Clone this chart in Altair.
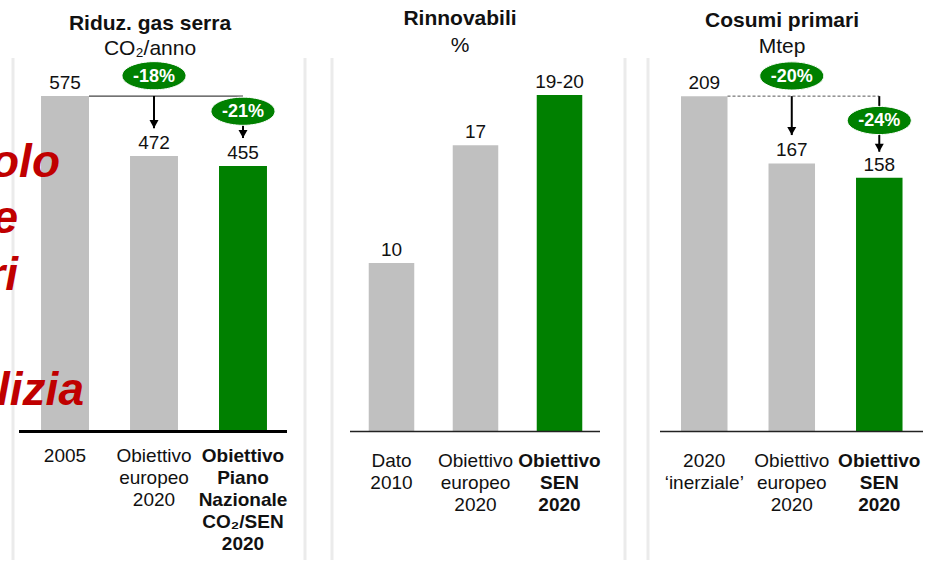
import altair as alt
import pandas as pd

FONT = "Liberation Sans"
GRAY = "#c0c0c0"
GREEN = "#008000"
RED = "#c00000"
BORDER = "#ebebeb"
INK = "#111111"

# ---- data -------------------------------------------------------------
gas_title = "Riduz. gas serra"
gas_unit = "CO₂/anno"
gas_cats = ["2005", "Obiettivo\neuropeo\n2020", "Obiettivo\nPiano\nNazionale\nCO₂/SEN\n2020"]
gas_values = [575, 472, 455]
gas_labels = ["575", "472", "455"]
gas_drops = ["-18%", "-21%"]

ren_title = "Rinnovabili"
ren_unit = "%"
ren_cats = ["Dato\n2010", "Obiettivo\neuropeo\n2020", "Obiettivo\nSEN\n2020"]
ren_values = [10, 17, 20]
ren_labels = ["10", "17", "19-20"]

con_title = "Cosumi primari"
con_unit = "Mtep"
con_cats = ["2020\n‘inerziale’", "Obiettivo\neuropeo\n2020", "Obiettivo\nSEN\n2020"]
con_values = [209, 167, 158]
con_labels = ["209", "167", "158"]
con_drops = ["-20%", "-24%"]

side_words = ["olo", "e", "ri", "lizia"]

ELLIPSE = "M-1,0A1,0.44,0,1,1,1,0A1,0.44,0,1,1,-1,0Z"
ARROWHEAD = "M-1,-1.8L1,-1.8L0,0Z"
H = 431


def one():
    return alt.Chart(pd.DataFrame({"k": [0]}))


def text_at(s, x, y, size=21, weight="normal", **kw):
    return one().mark_text(font=FONT, fontSize=size, fontWeight=weight, align="center",
                           baseline="alphabetic", color=INK, **kw).encode(
        x=alt.value(x), y=alt.value(y), text=alt.value(s))


def vrule(x, y1=58, y2=560, color=BORDER, width=3):
    return one().mark_rule(color=color, strokeWidth=width).encode(
        x=alt.value(x), y=alt.value(y1), y2=alt.value(y2))


def hrule(x1, x2, y, color, width):
    return one().mark_rule(color=color, strokeWidth=width).encode(
        x=alt.value(x1), x2=alt.value(x2), y=alt.value(y))


def panel(cats, values, labels, width, ymax, xs, title, unit, head, label_y,
          base, borders, extra=None):
    df = pd.DataFrame({"cat": cats, "value": values, "label": labels,
                       "hl": [False, False, True]})
    xscale = alt.Scale(domain=cats, **xs)
    yscale = alt.Scale(domain=[0, ymax], nice=False, zero=True)
    x = alt.X("cat:N", sort=cats, scale=xscale, axis=None)
    y = alt.Y("value:Q", scale=yscale, axis=None)
    c = alt.Chart(df)
    layers = [vrule(bx) for bx in borders]
    layers.append(c.mark_bar().encode(
        x=x, y=y,
        color=alt.condition("datum.hl", alt.value(GREEN), alt.value(GRAY))))
    layers.append(hrule(*base))
    layers.append(c.mark_text(font=FONT, fontSize=19, baseline="alphabetic", dy=-7,
                              color=INK).encode(x=x, y=y, text="label:N"))
    for test, wt in (("!datum.hl", "normal"), ("datum.hl", "bold")):
        layers.append(c.transform_filter(test).mark_text(
            font=FONT, fontSize=19, fontWeight=wt, baseline="alphabetic",
            lineBreak="\n", lineHeight=22, color=INK).encode(
            x=x, y=alt.value(label_y), text="cat:N"))
    hx, hy, sy = head
    layers.append(text_at(title, hx, hy, 21, "bold"))
    layers.append(text_at(unit, hx, sy, 21))
    if extra:
        layers += extra(cats, xscale, yscale)
    return alt.layer(*layers).properties(width=width, height=H)


def annotations(cats, xscale, yscale, top, arrow1, ell1, ell2, tail2, arrow2,
                drops, dashed):
    def X(f="cat", bp=0.5):
        return alt.X(f + ":N", sort=cats, scale=xscale, axis=None, bandPosition=bp)

    def Y(f):
        return alt.Y(f + ":Q", scale=yscale, axis=None)

    out = []
    conn = alt.Chart(pd.DataFrame({"a": [cats[0]], "b": [cats[2]], "v": [top]}))
    if dashed:
        out.append(conn.mark_rule(color="#555555", strokeWidth=1, strokeDash=[3, 2]).encode(
            x=X("a", 1), x2=alt.X2("b:N", bandPosition=0.5), y=Y("v")))
    else:
        out.append(conn.mark_rule(color="#444444", strokeWidth=1.3).encode(
            x=X("a", 1), x2=alt.X2("b:N", bandPosition=0.5), y=Y("v")))
    arr = pd.DataFrame({"cat": [cats[1], cats[2]] + ([cats[2]] if tail2 else []),
                        "y1": [top, ell2] + ([top] if tail2 else []),
                        "y2": [arrow1, arrow2] + ([tail2] if tail2 else [])})
    out.append(alt.Chart(arr).mark_rule(color="#000000", strokeWidth=2).encode(
        x=X(), y=Y("y1"), y2=alt.Y2("y2:Q")))
    heads = pd.DataFrame({"cat": [cats[1], cats[2]], "v": [arrow1, arrow2]})
    out.append(alt.Chart(heads).mark_point(shape=ARROWHEAD, size=81, filled=True,
                                           color="#000000", opacity=1).encode(x=X(), y=Y("v")))
    ell = pd.DataFrame({"cat": [cats[1], cats[2]], "v": [ell1, ell2], "t": drops})
    out.append(alt.Chart(ell).mark_point(shape=ELLIPSE, size=64 * 64, filled=True,
                                         color=GREEN, opacity=1, stroke="#ffffff",
                                         strokeWidth=1).encode(x=X(), y=Y("v")))
    out.append(alt.Chart(ell).mark_text(font=FONT, fontSize=18, fontWeight="bold",
                                        color="#ffffff", baseline="middle", dy=1).encode(
        x=X(), y=Y("v"), text="t:N"))
    return out


def gas_extra(cats, xs, ys):
    out = annotations(cats, xs, ys, gas_values[0], 520, 610, 549, None, 503,
                      gas_drops, False)
    pos = [(60, 177), (18, 233), (18, 290), (84, 405)]
    for w, (px, py) in zip(side_words, pos):
        out.append(one().mark_text(font=FONT, fontSize=46, fontStyle="italic",
                                   fontWeight="bold", color=RED, align="right",
                                   baseline="alphabetic", clip=True).encode(
            x=alt.value(px), y=alt.value(py), text=alt.value(w)))
    return out


def con_extra(cats, xs, ys):
    return annotations(cats, xs, ys, con_values[0], 184.7, 221.6, 193.8, 196, 174.3,
                       con_drops, True)


p1 = panel(gas_cats, gas_values, gas_labels, 308, 740,
           dict(paddingInner=0.461, paddingOuter=0.461, align=0.5),
           gas_title, gas_unit, (150, 30, 55), 462,
           (19, 287, 431.5, "#000000", 3), [13, 305], gas_extra)

p2 = panel(ren_cats, ren_values, ren_labels, 335, 25.65,
           dict(paddingInner=0.458, paddingOuter=0.723, align=0.5),
           ren_title, ren_unit, (152, 25, 52), 467,
           (42, 292, 431.5, "#222222", 1.5), [24, 317])

p3 = panel(con_cats, con_values, con_labels, 291, 269,
           dict(paddingInner=0.4686, paddingOuter=0.397, align=0.547),
           con_title, con_unit, (139, 27, 53), 467,
           (17, 280, 431.5, "#222222", 1.5), [5], con_extra)

chart = alt.hconcat(p1, p2, p3, spacing=0).properties(
    padding=0, background="#ffffff"
).configure_view(stroke=None)

chart.save("out.html", embed_options={"renderer": "svg", "actions": False})
